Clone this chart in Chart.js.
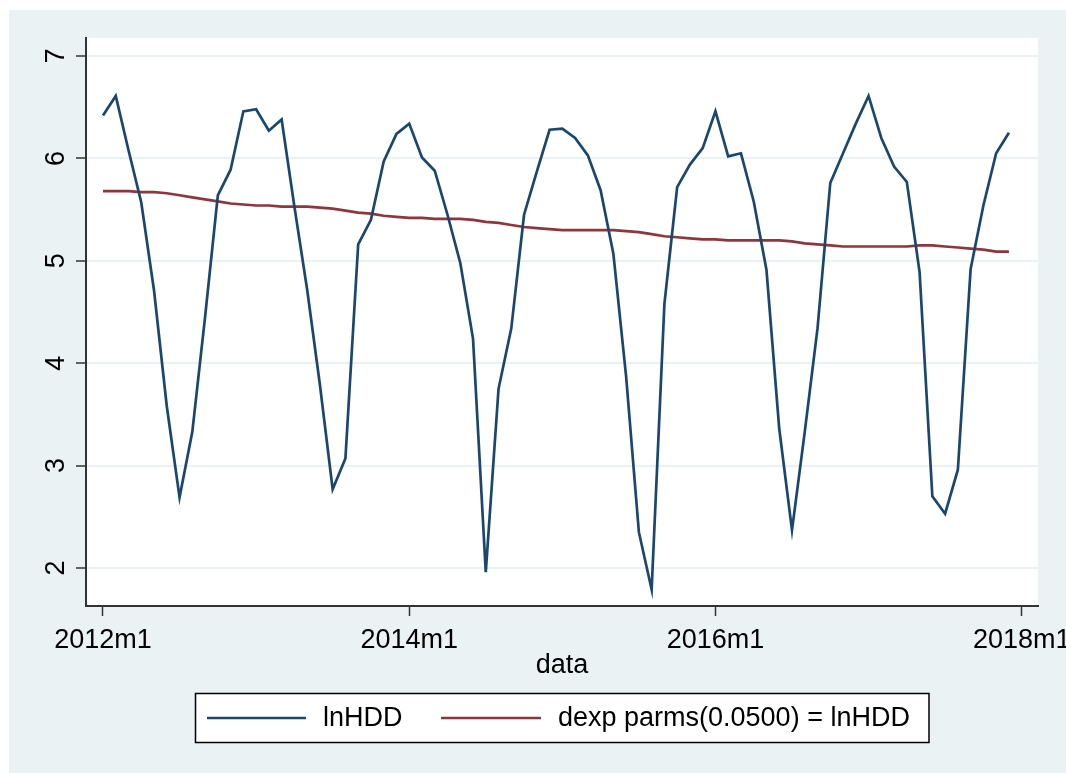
<!DOCTYPE html>
<html>
<head>
<meta charset="utf-8">
<script src="https://cdn.jsdelivr.net/npm/chart.js@4.4.1/dist/chart.umd.min.js"></script>
<style>
  html, body { margin: 0; padding: 0; background: #ffffff; }
  #wrap { width: 1066px; height: 773px; position: relative; }
</style>
</head>
<body>
<div id="wrap"><canvas id="chart" width="1066" height="773"></canvas></div>
<script>
// Данные: помесячно с 2012m1 по 2017m12 (индекс месяца = позиция на оси x)
const lnHDD = [
  6.42, 6.61, 6.08, 5.57, 4.71, 3.58, 2.69, 3.33, 4.45, 5.64, 5.89, 6.46,
  6.48, 6.27, 6.38, 5.53, 4.72, 3.79, 2.77, 3.07, 5.16, 5.40, 5.97, 6.24,
  6.34, 6.01, 5.88, 5.45, 4.98, 4.24, 1.96, 3.75, 4.34, 5.45, 5.87, 6.28,
  6.29, 6.20, 6.03, 5.69, 5.07, 3.87, 2.35, 1.79, 4.58, 5.72, 5.94, 6.10,
  6.46, 6.02, 6.05, 5.58, 4.91, 3.36, 2.37, 3.33, 4.34, 5.76, 6.05, 6.34,
  6.61, 6.20, 5.92, 5.77, 4.89, 2.70, 2.53, 2.96, 4.92, 5.54, 6.05, 6.25
];

const dexpHDD = [
  5.68, 5.68, 5.68, 5.67, 5.67, 5.66, 5.64, 5.62, 5.60, 5.58, 5.56, 5.55,
  5.54, 5.54, 5.53, 5.53, 5.53, 5.52, 5.51, 5.49, 5.47, 5.46, 5.44, 5.43,
  5.42, 5.42, 5.41, 5.41, 5.41, 5.40, 5.38, 5.37, 5.35, 5.33, 5.32, 5.31,
  5.30, 5.30, 5.30, 5.30, 5.30, 5.29, 5.28, 5.26, 5.24, 5.23, 5.22, 5.21,
  5.21, 5.20, 5.20, 5.20, 5.20, 5.20, 5.19, 5.17, 5.16, 5.15, 5.14, 5.14,
  5.14, 5.14, 5.14, 5.14, 5.15, 5.15, 5.14, 5.13, 5.12, 5.11, 5.09, 5.09
];

const xTickValues = [0, 24, 48, 72];
const xTickLabels = ['2012m1', '2014m1', '2016m1', '2018m1'];
const yTickValues = [2, 3, 4, 5, 6, 7];

const seriesLabels = ['lnHDD', 'dexp parms(0.0500) = lnHDD'];
const seriesColors = ['#1a476f', '#90353b'];

const BG = '#eaf2f3';
const FONT = '"Liberation Sans", Arial, sans-serif';

function toPoints(values) {
  return values.map((v, i) => ({ x: i, y: v }));
}

// Фон: серо-голубая область графика и белая область построения
const backgroundPlugin = {
  id: 'stataBackground',
  beforeDraw(chart) {
    const ctx = chart.ctx;
    const a = chart.chartArea;
    ctx.save();
    ctx.fillStyle = '#ffffff';
    ctx.fillRect(0, 0, chart.width, chart.height);
    ctx.fillStyle = BG;
    ctx.fillRect(9, 10, chart.width - 9, chart.height - 10);
    ctx.fillStyle = '#ffffff';
    ctx.fillRect(a.left, a.top, a.right - a.left, a.bottom - a.top);
    ctx.restore();
  }
};

// Легенда в рамке под графиком
const legendBoxPlugin = {
  id: 'stataLegend',
  afterDraw(chart) {
    const ctx = chart.ctx;
    const box = { x: 195.5, y: 693.5, w: 733.5, h: 49 };
    const items = [
      { x1: 207, x2: 306, tx: 323 },
      { x1: 441, x2: 541, tx: 558 }
    ];
    const cy = box.y + box.h / 2;
    ctx.save();
    ctx.fillStyle = '#ffffff';
    ctx.fillRect(box.x, box.y, box.w, box.h);
    ctx.strokeStyle = '#000000';
    ctx.lineWidth = 1.5;
    ctx.strokeRect(box.x, box.y, box.w, box.h);
    chart.data.datasets.forEach((ds, i) => {
      const it = items[i];
      ctx.strokeStyle = ds.borderColor;
      ctx.lineWidth = 2.6;
      ctx.beginPath();
      ctx.moveTo(it.x1, cy);
      ctx.lineTo(it.x2, cy);
      ctx.stroke();
      ctx.fillStyle = '#000000';
      ctx.font = '27px ' + FONT;
      ctx.textAlign = 'left';
      ctx.textBaseline = 'middle';
      ctx.fillText(ds.label, it.tx, cy + 1);
    });
    ctx.restore();
  }
};

const ctx = document.getElementById('chart');

new Chart(ctx, {
  type: 'line',
  data: {
    datasets: [
      {
        label: seriesLabels[0],
        data: toPoints(lnHDD),
        borderColor: seriesColors[0],
        borderWidth: 2.7,
        pointRadius: 0,
        tension: 0,
        fill: false
      },
      {
        label: seriesLabels[1],
        data: toPoints(dexpHDD),
        borderColor: seriesColors[1],
        borderWidth: 2.7,
        pointRadius: 0,
        tension: 0,
        fill: false
      }
    ]
  },
  options: {
    responsive: false,
    animation: false,
    devicePixelRatio: 1,
    layout: {
      padding: { left: 0, top: 38, right: 28, bottom: 0 }
    },
    plugins: {
      legend: { display: false },
      tooltip: { enabled: false }
    },
    scales: {
      x: {
        type: 'linear',
        min: -1.332,
        max: 73.28,
        afterBuildTicks(scale) {
          scale.ticks = xTickValues.map(v => ({ value: v }));
        },
        afterFit(scale) {
          scale.height = 167;
          scale.paddingLeft = 0;
          scale.paddingRight = 0;
        },
        grid: {
          drawOnChartArea: false,
          drawTicks: true,
          tickLength: 10,
          tickColor: '#333333',
          tickWidth: 1.5
        },
        border: { display: true, color: '#333333', width: 2 },
        ticks: {
          autoSkip: false,
          maxRotation: 0,
          minRotation: 0,
          padding: 8,
          color: '#000000',
          font: { family: FONT, size: 27 },
          callback(value) {
            const k = xTickValues.indexOf(value);
            return k >= 0 ? xTickLabels[k] : '';
          }
        },
        title: {
          display: true,
          text: 'data',
          color: '#000000',
          font: { family: FONT, size: 27 },
          padding: { top: 0, bottom: 91 }
        }
      },
      y: {
        type: 'linear',
        min: 1.629,
        max: 7.176,
        afterBuildTicks(scale) {
          scale.ticks = yTickValues.map(v => ({ value: v }));
        },
        afterFit(scale) {
          scale.width = 86;
          scale.paddingTop = 0;
          scale.paddingBottom = 0;
        },
        grid: {
          color: BG,
          lineWidth: 2,
          drawTicks: true,
          tickLength: 10,
          tickColor: '#333333',
          tickWidth: 1.5
        },
        border: { display: true, color: '#333333', width: 2 },
        ticks: {
          autoSkip: false,
          minRotation: 90,
          maxRotation: 90,
          crossAlign: 'center',
          padding: 12,
          color: '#000000',
          font: { family: FONT, size: 27 },
          callback(value) {
            return String(value);
          }
        }
      }
    }
  },
  plugins: [backgroundPlugin, legendBoxPlugin]
});
</script>
</body>
</html>
